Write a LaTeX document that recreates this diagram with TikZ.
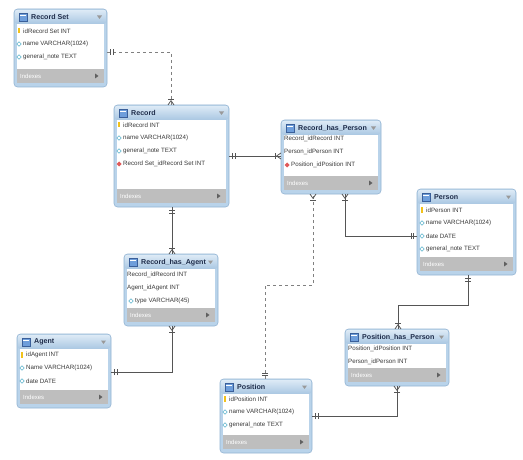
\documentclass[tikz,border=0pt]{standalone}
\usepackage{fontspec}
\setmainfont{Liberation Sans}
\usetikzlibrary{decorations.markings}
\definecolor{framecol}{HTML}{B9D3EA}
\definecolor{frameedge}{HTML}{93B4D3}
\definecolor{hdrtop}{HTML}{DDEAF6}
\definecolor{hdrbot}{HTML}{A9C7E2}
\definecolor{idxcol}{HTML}{BEBEBE}
\definecolor{titlecol}{HTML}{1E2C4A}
\definecolor{rowcol}{HTML}{3A3A3A}
\definecolor{linecol}{HTML}{555555}
\definecolor{dashcol}{HTML}{808080}
\definecolor{keycol}{HTML}{F2C21B}
\definecolor{colicon}{HTML}{5BB3CC}
\definecolor{fkcol}{HTML}{E05A5A}
\definecolor{iconfill}{HTML}{6E9EDB}
\definecolor{iconedge}{HTML}{3A5F9A}
\tikzset{
  tblframe/.style={draw=frameedge, fill=framecol, rounded corners=3.5pt, line width=0.6pt, inner sep=0pt, outer sep=0pt},
  titletxt/.style={font=\fontsize{7.1}{9}\selectfont\bfseries, text=titlecol, inner sep=0pt},
  rowtxt/.style={font=\fontsize{6.2}{7.5}\selectfont, text=rowcol, inner sep=0pt},
  idxtxt/.style={font=\fontsize{6}{7}\selectfont, text=white, inner sep=0pt},
  conn/.style={draw=linecol, line width=0.7pt},
  dconn/.style={draw=dashcol, line width=0.7pt, dashed},
  tick/.style={solid, draw=linecol, line width=0.7pt},
  onestart/.style={postaction={decorate,decoration={markings,
     mark=at position 3.5pt with {\draw[tick] (0,-3pt)--(0,3pt);},
     mark=at position 6pt with {\draw[tick] (0,-3pt)--(0,3pt);}}}},
  manyend/.style={postaction={decorate,decoration={markings,
     mark=at position -6pt with {\draw[tick] (0,-3pt)--(0,3pt);},
     mark=at position 1 with {\draw[tick] (-4.5pt,0)--(0,3pt) (-4.5pt,0)--(0,-3pt);}}}},
}
% #1 name, #2 x1, #3 y1, #4 x2, #5 y2, #6 title
\newcommand{\erdtable}[6]{%
  \node[tblframe, anchor=north west, minimum width={(#4-#2)*1pt}, minimum height={(#5-#3)*1pt}] (#1) at (#2,#3) {};
  \shade[top color=hdrtop, bottom color=hdrbot, rounded corners=2.5pt] ({#2+0.8},{#3+0.8}) rectangle ({#4-0.8},{#3+15});
  \fill[white] ({#2+3},{#3+15}) rectangle ({#4-3},{#5-18});
  \fill[idxcol] ({#2+3},{#5-18}) rectangle ({#4-3},{#5-4});
  \draw[iconedge, fill=iconfill, line width=0.4pt] ({#2+5},{#3+4}) rectangle ({#2+13},{#3+12});
  \draw[white, line width=0.5pt] ({#2+6},{#3+6}) -- ({#2+12},{#3+6});
  \node[titletxt, anchor=west] (#1-t) at ({#2+17},{#3+8.2}) {#6};
  \fill[gray!80] ({#4-10},{#3+6.5}) -- ({#4-5},{#3+6.5}) -- ({#4-7.5},{#3+10}) -- cycle;
  \node[idxtxt, anchor=west] (#1-i) at ({#2+6},{#5-11}) {Indexes};
  \fill[gray!75!black] ({#4-12},{#5-13.5}) -- ({#4-12},{#5-8.5}) -- ({#4-8.5},{#5-11}) -- cycle;
}
\newcommand{\pkicon}[2]{\fill[keycol] ({#1-1},{#2-3}) rectangle ({#1+1},{#2+2.5});}
\newcommand{\colic}[2]{\draw[colicon, line width=0.5pt, fill=white] ({#1-2.3},{#2}) -- ({#1},{#2-2.3}) -- ({#1+2.3},{#2}) -- ({#1},{#2+2.3}) -- cycle;}
\newcommand{\fkicon}[2]{\fill[fkcol] ({#1-2.5},{#2}) -- ({#1},{#2-2.5}) -- ({#1+2.5},{#2}) -- ({#1},{#2+2.5}) -- cycle;}
\begin{document}
\begin{tikzpicture}[x=1pt,y=-1pt]
\useasboundingbox[fill=white] (0,0) rectangle (523,460);

% ---------- tables ----------
\erdtable{rs}{14}{9}{107}{87}{Record Set}
\pkicon{19}{31}\node[rowtxt,anchor=west] (rs-1) at (23,31) {idRecord Set INT};
\colic{19}{44}\node[rowtxt,anchor=west] (rs-2) at (23,44) {name VARCHAR(1024)};
\colic{19}{57}\node[rowtxt,anchor=west] (rs-3) at (23,57) {general\_note TEXT};

\erdtable{rec}{114}{105}{229}{207}{Record}
\pkicon{119}{125}\node[rowtxt,anchor=west] (rec-1) at (123,125) {idRecord INT};
\colic{119}{138}\node[rowtxt,anchor=west] (rec-2) at (123,138) {name VARCHAR(1024)};
\colic{119}{151}\node[rowtxt,anchor=west] (rec-3) at (123,151) {general\_note TEXT};
\fkicon{119}{164}\node[rowtxt,anchor=west] (rec-4) at (123,164) {Record Set\_idRecord Set INT};

\erdtable{rhp}{281}{120}{381}{194}{Record\_has\_Person}
\node[rowtxt,anchor=west] (rhp-1) at (284,139) {Record\_idRecord INT};
\node[rowtxt,anchor=west] (rhp-2) at (284,152) {Person\_idPerson INT};
\fkicon{287}{165}\node[rowtxt,anchor=west] (rhp-3) at (291,165) {Position\_idPosition INT};

\erdtable{per}{417}{189}{516}{275}{Person}
\pkicon{422}{210}\node[rowtxt,anchor=west] (per-1) at (426,210) {idPerson INT};
\colic{422}{223}\node[rowtxt,anchor=west] (per-2) at (426,223) {name VARCHAR(1024)};
\colic{422}{236}\node[rowtxt,anchor=west] (per-3) at (426,236) {date DATE};
\colic{422}{249}\node[rowtxt,anchor=west] (per-4) at (426,249) {general\_note TEXT};

\erdtable{rha}{124}{254}{218}{326}{Record\_has\_Agent}
\node[rowtxt,anchor=west] (rha-1) at (127,275) {Record\_idRecord INT};
\node[rowtxt,anchor=west] (rha-2) at (127,288) {Agent\_idAgent INT};
\colic{131}{301}\node[rowtxt,anchor=west] (rha-3) at (135,301) {type VARCHAR(45)};

\erdtable{ag}{17}{334}{111}{408}{Agent}
\pkicon{22}{355}\node[rowtxt,anchor=west] (ag-1) at (26,355) {idAgent INT};
\colic{22}{368}\node[rowtxt,anchor=west] (ag-2) at (26,368) {Name VARCHAR(1024)};
\colic{22}{381}\node[rowtxt,anchor=west] (ag-3) at (26,381) {date DATE};

\erdtable{php}{345}{329}{449}{386}{Position\_has\_Person}
\node[rowtxt,anchor=west] (php-1) at (348,349) {Position\_idPosition INT};
\node[rowtxt,anchor=west] (php-2) at (348,362) {Person\_idPerson INT};

\erdtable{pos}{220}{379}{312}{453}{Position}
\pkicon{225}{399}\node[rowtxt,anchor=west] (pos-1) at (229,399) {idPosition INT};
\colic{225}{412}\node[rowtxt,anchor=west] (pos-2) at (229,412) {name VARCHAR(1024)};
\colic{225}{425}\node[rowtxt,anchor=west] (pos-3) at (229,425) {general\_note TEXT};

% ---------- connection points ----------
\coordinate (c1a) at ([yshift=-43pt]rs.north east);
\coordinate (c1b) at ([xshift=57pt]rec.north west);
\coordinate (c2a) at ([yshift=-51pt]rec.north east);
\coordinate (c3a) at ([xshift=58pt]rec.south west);
\coordinate (c3b) at ([xshift=48pt]rha.north west);
\coordinate (c4a) at ([yshift=-38pt]ag.north east);
\coordinate (c4b) at ([xshift=48pt]rha.south west);
\coordinate (c5a) at ([yshift=-47pt]per.north west);
\coordinate (c5b) at ([xshift=64pt]rhp.south west);
\coordinate (c6a) at ([xshift=45pt]pos.north west);
\coordinate (c6b) at ([xshift=32pt]rhp.south west);
\coordinate (c6m) at (0,285);
\coordinate (c7a) at ([xshift=51pt]per.south west);
\coordinate (c7b) at ([xshift=53pt]php.north west);
\coordinate (c7m) at (0,305);
\coordinate (c8a) at ([yshift=-37pt]pos.north east);
\coordinate (c8b) at ([xshift=52pt]php.south west);

% ---------- connectors ----------
\draw[dconn, onestart, manyend] (c1a) -| (c1b);
\draw[conn, onestart, manyend] (c2a) -- (rhp.west |- c2a);
\draw[conn, onestart, manyend] (c3a) -- (c3b);
\draw[conn, onestart, manyend] (c4a) -| (c4b);
\draw[conn, onestart, manyend] (c5a) -| (c5b);
\draw[dconn, onestart, manyend] (c6a) -- (c6a |- c6m) -| (c6b);
\draw[conn, onestart, manyend] (c7a) -- (c7a |- c7m) -| (c7b);
\draw[conn, onestart, manyend] (c8a) -| (c8b);
\end{tikzpicture}
\end{document}
